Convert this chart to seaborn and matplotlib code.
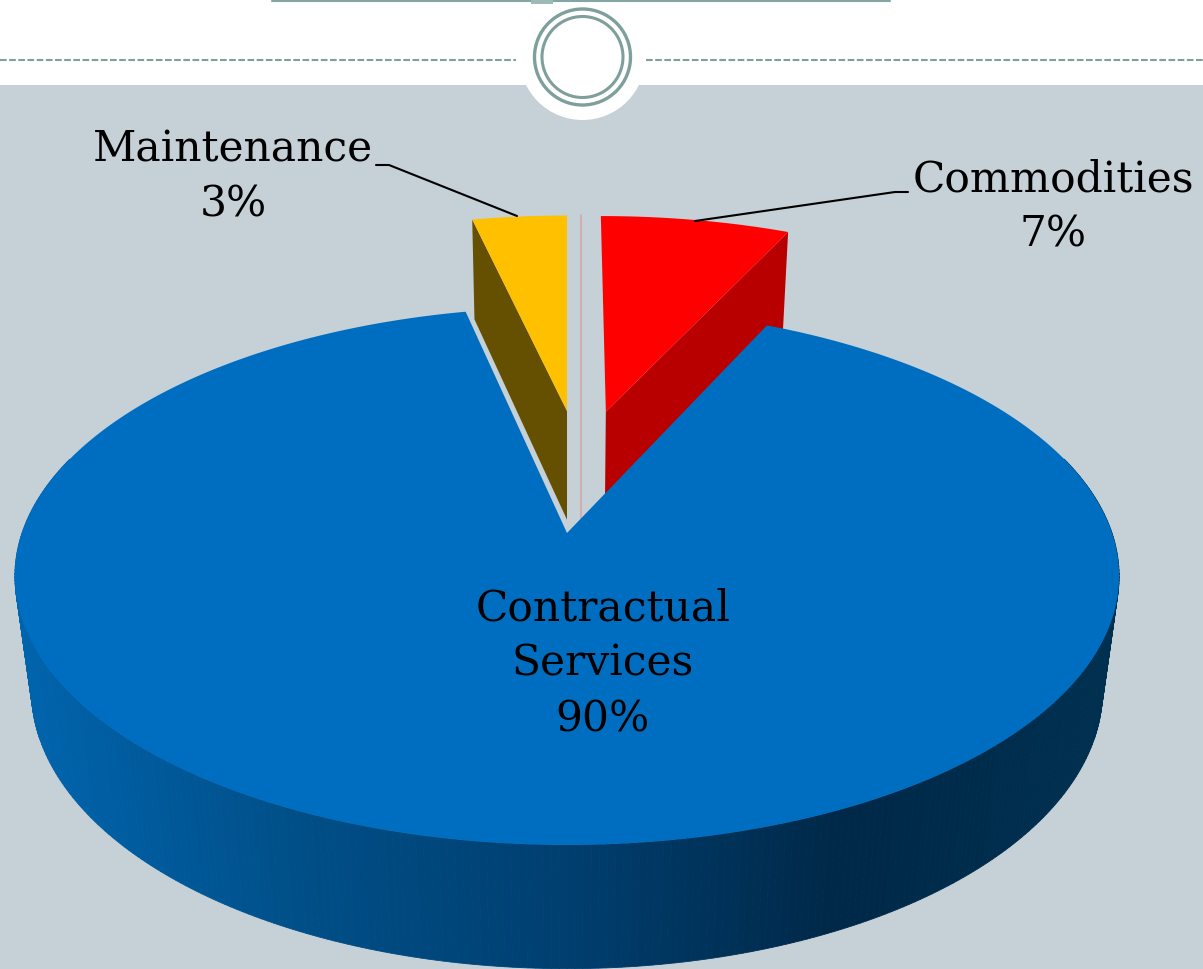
import numpy as np
import matplotlib
matplotlib.use("Agg")
import matplotlib.pyplot as plt
from matplotlib.patches import Circle, Rectangle
import seaborn as sns

# shares, labels show them rounded
categories = ["Commodities", "Contractual\nServices", "Maintenance"]
shares = [6.9, 89.65, 3.45]

# perspective of the tilted pie, in pixels of the picture
CX, CY = 567, 533
A, B, K = 545, 262, 0.16
DEPTH_Y, DEPTH_W = 117, 0.03

BG = "#c5d0d7"
TEAL = "#7f9f9c"
TOP_COLORS = ["#ff0000", "#006ec0", "#ffc000"]
SIDE_COLORS = ["#b80000", None, "#654f00"]
# how far the two small slices are pulled out of the pie
EXPLODE = [(0.077, -0.50), (0, 0), (0, -0.503)]


def project(X, Y, z=0):
    w = 1 - K * Y + DEPTH_W * z
    return CX + A * X / w, CY + (B * Y + DEPTH_Y * z) / w


def rim(t, dx=0, dy=0):
    return np.sin(t) + dx, -np.cos(t) + dy


sns.set_theme(style="white")
plt.rcParams["font.family"] = ["DejaVu Serif"]

fig = plt.figure(figsize=(12.03, 9.69), dpi=100)
ax = fig.add_axes([0, 0, 1, 1])
ax.set_xlim(0, 1203)
ax.set_ylim(969, 0)
ax.axis("off")
fig.patch.set_facecolor("white")

# slide header
ax.add_patch(Rectangle((0, 85), 1203, 884, color=BG, lw=0, zorder=0))
ax.add_patch(Circle((582.5, 57), 63, color="white", lw=0, zorder=1))
ax.plot([272, 890], [0.5, 0.5], color="#84a6a3", lw=1.5, zorder=2)
ax.fill_between([531, 553], 0, 4, color="#9dbab7", lw=0, zorder=2)
ax.plot([0, 516], [60, 60], color=TEAL, lw=1.5, ls=(0, (3.2, 1.2)), zorder=2)
ax.plot([646, 1203], [60, 60], color=TEAL, lw=1.5, ls=(0, (3.2, 1.2)), zorder=2)
for r, lw in [(48, 2.4), (40.5, 2.2)]:
    ax.add_patch(Circle((582.5, 57), r, fc="none", ec=TEAL, lw=lw, zorder=2))

# thin line in the gap between the pulled out slices
ax.plot([581, 581], [215, 519], color="#d6a8a8", lw=1.2, zorder=2)

edges = np.cumsum([0] + shares) / 100 * 2 * np.pi

# pulled out slices first, the big one is drawn over them
for i in [0, 2]:
    dx, dy = EXPLODE[i]
    t = np.linspace(edges[i], edges[i + 1], 60)
    X, Y = rim(t, dx, dy)
    # wall along the radial edge that faces the viewer
    rad = edges[i + 1] if i == 0 else edges[i]
    Xr, Yr = rim(rad, dx, dy)
    px = [project(Xr, Yr), project(dx, dy), project(dx, dy, 1), project(Xr, Yr, 1)]
    ax.fill(*zip(*px), color=SIDE_COLORS[i], lw=0, zorder=3)
    xs, ys = project(X, Y)
    xa, ya = project(dx, dy)
    ax.fill(np.r_[xa, xs], np.r_[ya, ys], color=TOP_COLORS[i], lw=0, zorder=4)

# outer wall of the big slice, shaded from left to right
wall = sns.blend_palette(["#0064ad", "#004f88", "#003f70", "#002848", "#003050"], 300)
t = np.linspace(np.pi / 2 - 0.3, 3 * np.pi / 2 + 0.3, 301)
X, Y = rim(t)
xt, yt = project(X, Y)
xb, yb = project(X, Y, 1)
for j in range(300):
    c = wall[int(np.clip((xt[j] - 15) / 1103 * 299, 0, 299))]
    ax.fill([xt[j], xt[j + 1], xb[j + 1], xb[j]], [yt[j], yt[j + 1], yb[j + 1], yb[j]],
            color=c, lw=0.6, zorder=5)

# top of the big slice
t = np.linspace(edges[1], edges[2], 400)
X, Y = rim(t)
xs, ys = project(X, Y)
ax.fill(np.r_[CX, xs], np.r_[CY, ys], color=TOP_COLORS[1], lw=0, zorder=6)

# labels
FS = 30.5
LS = 1.4
pct = [f"{round(s)}%" for s in shares]
ax.text(233, 177, f"{categories[2]}\n{pct[2]}", ha="center", va="center", fontsize=FS,
        linespacing=LS, color="black", zorder=8)
ax.text(1053, 207, f"{categories[0]}\n{pct[0]}", ha="center", va="center", fontsize=FS,
        linespacing=LS, color="black", zorder=8)
ax.text(603, 664, f"{categories[1]}\n{pct[1]}", ha="center", va="center", fontsize=FS,
        linespacing=LS, color="black", zorder=8)
ax.plot([376, 389, 517], [165, 165, 216], color="black", lw=1.5, zorder=7)
ax.plot([908, 895, 695], [192, 192, 221], color="black", lw=1.5, zorder=7)

plt.savefig("out.png", dpi=100)
plt.close()
